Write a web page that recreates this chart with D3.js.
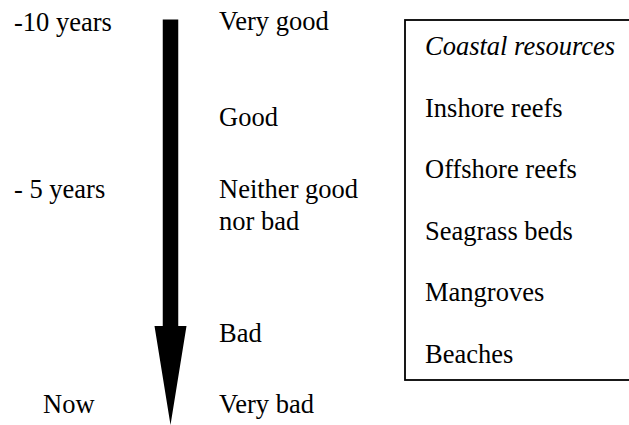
<!DOCTYPE html>
<meta charset="utf-8">
<body style="margin: 0; overflow: hidden; background: #fff">
<script src="https://d3js.org/d3.v7.min.js"></script>
<script>
    // time markers along the arrow
    var timeLabels = ["-10 years", "- 5 years", "Now"];
    var timeValues = [-10, -5, 0];

    // condition scale, best at the top
    var conditions = [["Very good"], ["Good"], ["Neither good", "nor bad"], ["Bad"], ["Very bad"]];

    // resources listed in the box
    var boxTitle = "Coastal resources";
    var resources = ["Inshore reefs", "Offshore reefs", "Seagrass beds", "Mangroves", "Beaches"];

    var width = 629, height = 425;

    var svg = d3.select("body").append("svg")
        .attr("width", width)
        .attr("height", height)
        .attr("font-family", "Liberation Serif")
        .attr("font-size", 26.5);

    // y positions (baselines)
    var yTime = d3.scaleLinear().domain([-10, -5, 0]).range([31, 198, 413]);
    var yCond = d3.scaleLinear().domain([0, 1, 2, 3, 4]).range([30, 126, 198, 342, 413]);
    var yBox = d3.scaleLinear().domain([0, resources.length]).range([55, 363]);

    // the arrow
    var ax = 170.5, shaftW = 15.5, headW = 32, arrowTop = 19.5, headTop = 326, tip = 425;
    svg.append("path")
        .attr("d", d3.line()([
            [ax - shaftW / 2, arrowTop], [ax + shaftW / 2, arrowTop], [ax + shaftW / 2, headTop],
            [ax + headW / 2, headTop], [ax, tip], [ax - headW / 2, headTop],
            [ax - shaftW / 2, headTop]
        ]) + "Z")
        .attr("fill", "#000");

    svg.selectAll(".time")
        .data(timeLabels)
        .enter().append("text")
        .attr("class", "time")
        .attr("x", function (d, i) { return i == 2 ? 43 : 14; })
        .attr("y", function (d, i) { return yTime(timeValues[i]); })
        .text(function (d) { return d; });

    var cond = svg.selectAll(".cond")
        .data(conditions)
        .enter().append("text")
        .attr("class", "cond")
        .attr("y", function (d, i) { return yCond(i); });
    cond.selectAll("tspan")
        .data(function (d) { return d; })
        .enter().append("tspan")
        .attr("x", 219)
        .attr("dy", function (d, i) { return i ? 32 : 0; })
        .text(function (d) { return d; });

    // box, right side runs off the picture
    svg.append("rect")
        .attr("x", 405)
        .attr("y", 20)
        .attr("width", 260)
        .attr("height", 360)
        .attr("fill", "none")
        .attr("stroke", "#000")
        .attr("stroke-width", 1.8);

    svg.append("text")
        .attr("x", 425)
        .attr("y", yBox(0))
        .attr("font-style", "italic")
        .text(boxTitle);

    svg.selectAll(".res")
        .data(resources)
        .enter().append("text")
        .attr("class", "res")
        .attr("x", 425)
        .attr("y", function (d, i) { return yBox(i + 1); })
        .text(function (d) { return d; });
</script>
